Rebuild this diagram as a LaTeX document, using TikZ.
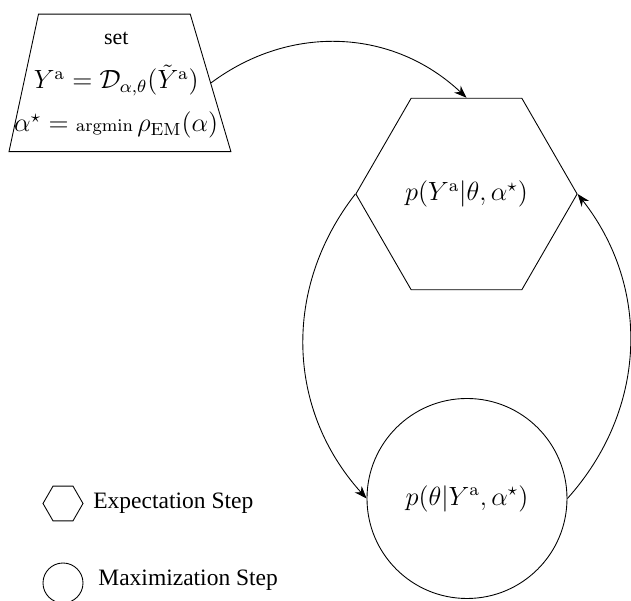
\documentclass[tikz,border=0pt]{standalone}
\usepackage{amsmath,amssymb}
\usepackage[no-math]{fontspec}
\setmainfont{Liberation Serif}
\usetikzlibrary{arrows.meta,positioning,shapes.geometric}
\tikzset{estep/.style={draw,regular polygon,regular polygon sides=6,inner sep=0pt},
  mstep/.style={draw,circle,inner sep=0pt},
  setbox/.style={draw,trapezium,trapezium left angle=79,trapezium right angle=75,trapezium stretches,inner sep=1pt},
  bigmath/.style={font=\large},
  legend/.style={anchor=west,font=\fontsize{10.7}{13}\selectfont},
  arr/.style={-{Stealth[length=2mm]}}}

\begin{document}
\begin{tikzpicture}
\useasboundingbox (0,0) rectangle (10.096,9.616);
\node[setbox,minimum width=3.55cm,minimum height=2.2cm] (S) at (1.83,8.29){};
\node[bigmath,align=center] (St) at (1.86,8.25){{\normalsize set}\\[6pt]$Y^{\mathrm a}=\mathcal{D}_{\alpha,\theta}(\tilde{Y}^{\mathrm a})$\\[5.5pt]$\alpha^{\star}={\scriptstyle\mathrm{argmin}}\,\rho_{\mathrm{EM}}(\alpha)$};
\node[estep,minimum size=3.54cm,bigmath] (E) at (7.464,6.512){$p(Y^{\mathrm a}|\theta,\alpha^{\star})$};
\node[mstep,minimum size=3.2cm,bigmath] (M) at (7.472,1.64){$p(\theta|Y^{\mathrm a},\alpha^{\star})$};
\node[estep,minimum size=0.64cm] (le) at (1.008,1.56){}; \node[legend] (lt) at (1.37,1.568){Expectation Step};
\node[mstep,minimum size=0.64cm] (lm) at (1.008,0.288){}; \node[legend] (mt) at (1.45,0.336){Maximization Step};
\draw[arr] (S.east) to[bend left=40] (E.north);
\draw[arr] (E.west) to[bend right=40] (M.west);
\draw[arr] (M.east) to[bend right=40] (E.east);
\end{tikzpicture}
\end{document}
